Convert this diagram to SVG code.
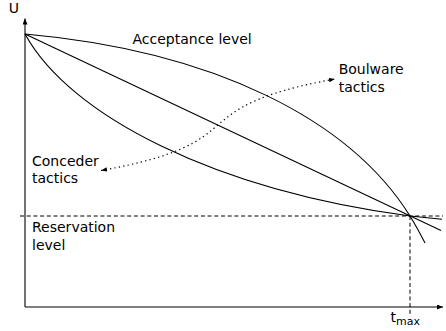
<svg xmlns="http://www.w3.org/2000/svg" width="446" height="331" viewBox="0 0 446 331">
<style>
text{font-family:"DejaVu Sans","Liberation Sans",sans-serif;font-size:14px;fill:#000}
.ln{fill:none;stroke:#000;stroke-width:1.1}
.dash{fill:none;stroke:#000;stroke-width:1;stroke-dasharray:4,2.7}
.dot{fill:none;stroke:#000;stroke-width:1.2;stroke-dasharray:1.3,3.2}
</style>
<defs>
<marker id="ax" markerUnits="userSpaceOnUse" markerWidth="7" markerHeight="6" refX="6" refY="2.5" orient="auto"><path d="M0,0 L6,2.5 L0,5 z" fill="#000"/></marker>
<marker id="da" markerUnits="userSpaceOnUse" markerWidth="7" markerHeight="6" refX="6" refY="2.2" orient="auto-start-reverse"><path d="M0,0 L6,2.2 L0,4.4 z" fill="#000"/></marker>
</defs>
<g id="axes">
<path class="ln" d="M25,307 L25,18.5" marker-end="url(#ax)"/>
<path class="ln" d="M25,307 L443,307" marker-end="url(#ax)"/>
<text x="8.8" y="12.5">U</text>
<text x="390.6" y="322">t<tspan font-size="11" dy="3">max</tspan></text>
</g>
<g id="reservation">
<path class="dash" d="M20,216 L443,216"/>
<path class="dash" d="M410,216 L410,314"/>
<text x="32" y="232">Reservation</text>
<text x="32" y="249.5">level</text>
</g>
<g id="curves">
<path id="boulware-curve" class="ln" d="M25,34 C215,51 350,120 410,216 Q417,227.5 425,243"/>
<path id="linear" class="ln" d="M25,34 L441,230.6"/>
<path id="conceder-curve" class="ln" d="M25,34 C70,116 215,190 410,216 L442,219.2"/>
</g>
<g id="acceptance">
<text x="132.5" y="44">Acceptance level</text>
</g>
<g id="connectors">
<path class="dot" d="M101,170.5 C261,142 175,108 335,79" marker-start="url(#da)" marker-end="url(#da)"/>
</g>
<g id="boulware">
<text x="338.7" y="74">Boulware</text>
<text x="338.7" y="91.5">tactics</text>
</g>
<g id="conceder">
<text x="32" y="165.5">Conceder</text>
<text x="32" y="183">tactics</text>
</g>
</svg>
